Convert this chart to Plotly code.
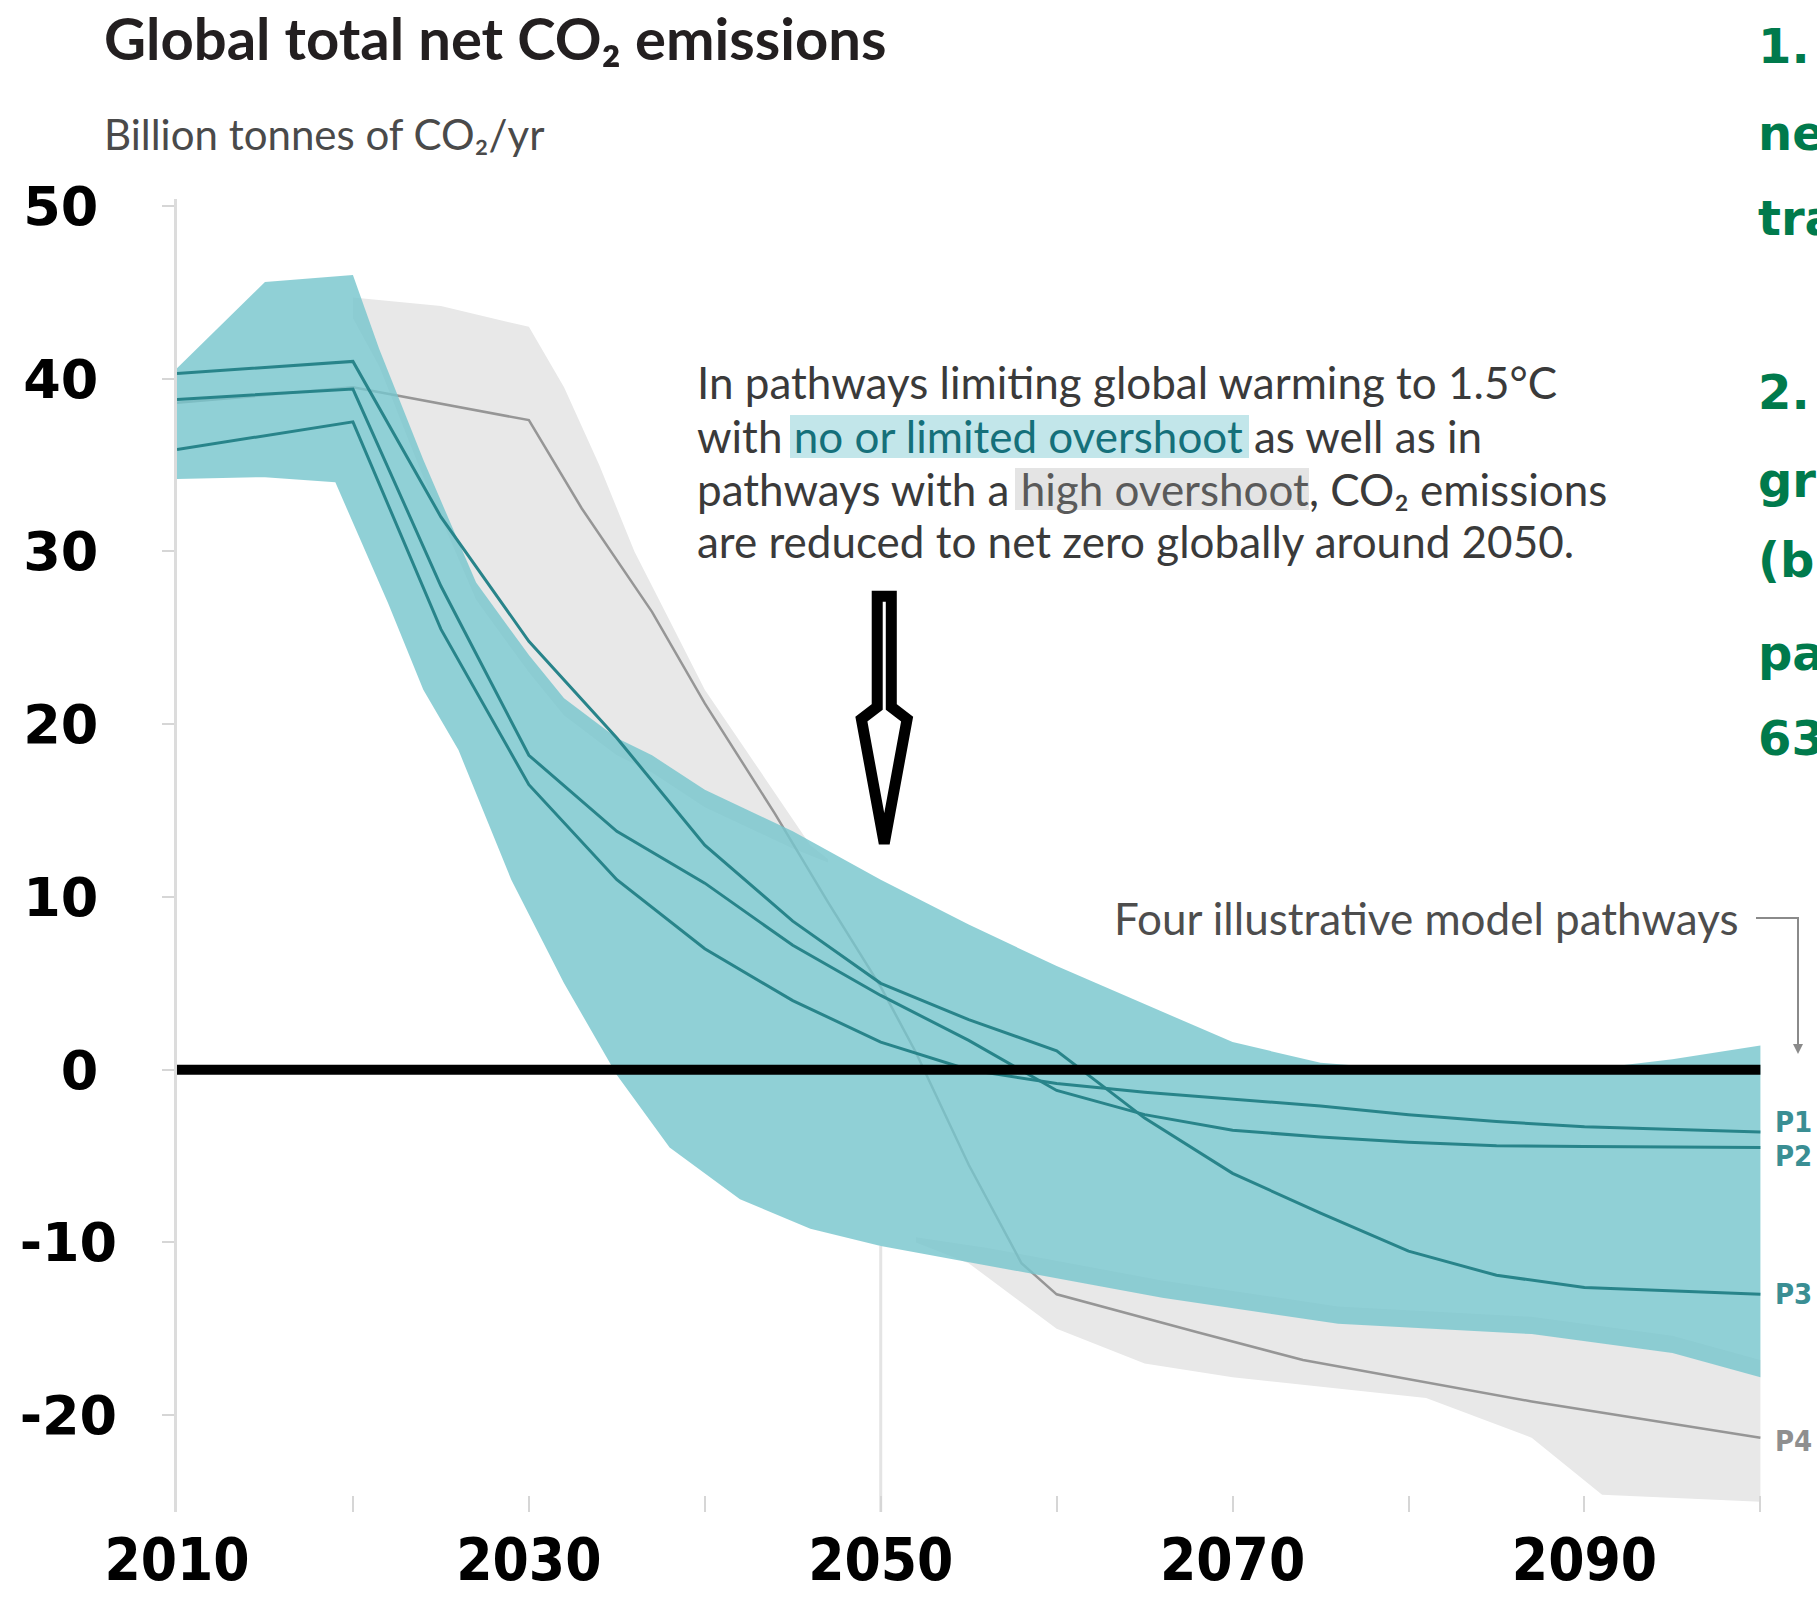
import plotly.graph_objects as go

# ---------------- data ----------------
line_years = [2010, 2020, 2025, 2030, 2035, 2040, 2045, 2050, 2055, 2060, 2065, 2070, 2075, 2080, 2085, 2090, 2100]
p1_values = [35.9, 37.5, 25.5, 16.5, 11.0, 7.0, 4.0, 1.6, 0.0, -0.8, -1.3, -1.7, -2.1, -2.6, -3.0, -3.3, -3.6]
p2_values = [38.8, 39.4, 28.0, 18.2, 13.8, 10.8, 7.2, 4.3, 1.7, -1.2, -2.6, -3.5, -3.9, -4.2, -4.4, -4.45, -4.5]
p3_values = [40.3, 41.0, 32.0, 24.8, 19.2, 13.0, 8.6, 5.0, 2.9, 1.1, -2.8, -6.0, -8.3, -10.5, -11.9, -12.6, -13.0]

p4_years = [2010, 2020, 2030, 2033, 2037, 2040, 2044, 2047, 2050, 2052, 2055, 2058, 2060, 2068, 2074, 2080, 2087, 2100]
p4_values = [38.6, 39.5, 37.6, 32.5, 26.5, 21.2, 14.8, 9.7, 4.8, 1.0, -5.5, -11.2, -13.0, -15.2, -16.8, -17.9, -19.2, -21.3]

teal_upper_years = [2010, 2015, 2020, 2021.5, 2024, 2027, 2030, 2032, 2035, 2037, 2040, 2045, 2050, 2055, 2060, 2065, 2070, 2075, 2080, 2085, 2090, 2095, 2100]
teal_upper = [40.6, 45.6, 46.0, 41.7, 35.3, 28.2, 24.0, 21.5, 19.2, 18.2, 16.2, 13.8, 11.0, 8.4, 6.0, 3.8, 1.6, 0.4, 0.0, -0.1, 0.0, 0.6, 1.4]
teal_lower_years = [2010, 2015, 2019, 2020.5, 2022, 2024, 2026, 2029, 2032, 2035, 2038, 2042, 2046, 2050, 2056, 2066, 2076, 2087, 2095, 2100]
teal_lower = [34.2, 34.3, 34.0, 30.5, 27.0, 22.0, 18.5, 11.0, 5.0, -0.3, -4.5, -7.5, -9.2, -10.2, -11.3, -13.2, -14.7, -15.3, -16.4, -17.8]

# high-overshoot (gray) range: visible part above the teal band, and part below it
gray_top_upper_years = [2020, 2025, 2030, 2032, 2034, 2036, 2038, 2040, 2042, 2044, 2046, 2047]
gray_top_upper = [44.7, 44.2, 43.0, 39.5, 35.0, 30.0, 26.0, 22.0, 19.0, 16.0, 13.0, 12.2]
gray_top_lower_years = [2020, 2021.5, 2024, 2027, 2030, 2032, 2035, 2037, 2040, 2045, 2047]
gray_top_lower = [43.5, 40.7, 34.3, 27.2, 23.0, 20.5, 18.2, 17.2, 15.2, 12.8, 12.0]
gray_bot_upper_years = [2052, 2056, 2066, 2076, 2087, 2095, 2100]
gray_bot_upper = [-9.7, -10.3, -12.2, -13.7, -14.3, -15.4, -16.8]
gray_bot_lower_years = [2052, 2055, 2060, 2065, 2070, 2081, 2087, 2091, 2100]
gray_bot_lower = [-10.0, -11.2, -15.0, -17.0, -17.8, -19.0, -21.3, -24.6, -25.0]

zero_years = [2010, 2100]
zero_values = [0, 0]

y_tick_values = [-20, -10, 0, 10, 20, 30, 40, 50]
y_tick_labels = ["-20", "-10", "0\u00a0", "10\u00a0", "20\u00a0", "30\u00a0", "40\u00a0", "50\u00a0"]
x_tick_values = [2010, 2020, 2030, 2040, 2050, 2060, 2070, 2080, 2090, 2100]
x_tick_labels = ["2010", "", "2030", "", "2050", "", "2070", "", "2090", ""]

pathway_names = ["P1", "P2", "P3", "P4"]
pathway_label_y = [-3.0, -5.0, -13.0, -21.5]

green_fragments = ["1.", "ne", "tra", "2.", "gre", "(b", "pa", "63"]
green_rows_px = [46, 133, 218, 392, 480, 560, 653, 738]

text_lines = [
    "In pathways limiting global warming to 1.5°C",
    "with <span style='color:#15707a'>no or limited overshoot</span> as well as in",
    "pathways with a <span style='color:#5a5a5a'>high overshoot</span>, CO₂ emissions",
    "are reduced to net zero globally around 2050.",
]
text_rows_px = [382, 436, 489, 541]

# ---------------- layout geometry ----------------
W, H = 1817, 1602
ML, MR, MT, MB = 177, 39, 199, 90
PW, PH = W - ML - MR, H - MT - MB


def px(x):
    return (x - ML) / PW


def py(y):
    return (H - MB - y) / PH


TEAL_LINE = "rgb(40,132,138)"
GRAY_FILL = "rgb(232,232,232)"
fig = go.Figure()

# gray band (high overshoot), two visible parts
fig.add_trace(go.Scatter(
    x=gray_top_upper_years + gray_top_lower_years[::-1],
    y=gray_top_upper + gray_top_lower[::-1],
    fill="toself", fillcolor=GRAY_FILL, line=dict(width=0), mode="lines", hoverinfo="skip"))
fig.add_trace(go.Scatter(
    x=gray_bot_upper_years + gray_bot_lower_years[::-1],
    y=gray_bot_upper + gray_bot_lower[::-1],
    fill="toself", fillcolor=GRAY_FILL, line=dict(width=0), mode="lines", hoverinfo="skip"))

# 2050 faint grid segment below the bands
fig.add_trace(go.Scatter(x=[2050, 2050], y=[-25.6, -10.2], mode="lines",
                         line=dict(color="rgb(228,228,228)", width=3), hoverinfo="skip"))

# P4 pathway
fig.add_trace(go.Scatter(x=p4_years, y=p4_values, mode="lines",
                         line=dict(color="rgb(150,150,150)", width=2.5), hoverinfo="skip"))

# teal band (no or limited overshoot)
fig.add_trace(go.Scatter(
    x=teal_upper_years + teal_lower_years[::-1],
    y=teal_upper + teal_lower[::-1],
    fill="toself", fillcolor="rgba(120,198,205,0.82)", line=dict(width=0),
    mode="lines", hoverinfo="skip"))

for vals in (p1_values, p2_values, p3_values):
    fig.add_trace(go.Scatter(x=line_years, y=vals, mode="lines",
                             line=dict(color=TEAL_LINE, width=3), hoverinfo="skip"))

# thick zero line
fig.add_trace(go.Scatter(x=zero_years, y=zero_values, mode="lines",
                         line=dict(color="black", width=10), hoverinfo="skip", cliponaxis=False))

annotations = []
annotations.append(dict(x=px(102), y=py(37), xref="paper", yref="paper", xanchor="left", yanchor="middle",
                        text="Global total net CO₂ emissions", showarrow=False,
                        font=dict(family="Lato", size=58, color="#231f20", weight="bold")))
annotations.append(dict(x=px(102), y=py(134), xref="paper", yref="paper", xanchor="left", yanchor="middle",
                        text="Billion tonnes of CO₂/yr", showarrow=False,
                        font=dict(family="Lato", size=42, color="#4a4a4a")))
for frag, row in zip(green_fragments, green_rows_px):
    annotations.append(dict(x=px(1756), y=py(row), xref="paper", yref="paper", xanchor="left",
                            yanchor="middle", text=frag, showarrow=False,
                            font=dict(family="DejaVu Sans", size=48, color="#007a4c", weight="bold")))

for txt, row in zip(text_lines, text_rows_px):
    annotations.append(dict(x=px(695), y=py(row), xref="paper", yref="paper", xanchor="left",
                            yanchor="middle", align="left", text=txt, showarrow=False,
                            font=dict(family="Lato", size=44, color="#3a3a3a")))
annotations.append(dict(x=px(1741), y=py(918), xref="paper", yref="paper", xanchor="right", yanchor="middle",
                        text="Four illustrative model pathways", showarrow=False,
                        font=dict(family="Lato", size=44, color="#4d4d4d")))
annotations.append(dict(x=px(1798), y=py(1054), xref="paper", yref="paper", text="", showarrow=True,
                        ax=0, ay=-30, arrowhead=2, arrowsize=1, arrowwidth=2, arrowcolor="#8a8a8a"))
label_colors = ["#3a8e93", "#3a8e93", "#3a8e93", "#8f8f8f"]
for name, yv, col in zip(pathway_names, pathway_label_y, label_colors):
    annotations.append(dict(x=px(1773), y=yv, xref="paper", yref="y", xanchor="left", yanchor="middle",
                            text=name, showarrow=False,
                            font=dict(family="DejaVu Sans Condensed", size=29, color=col, weight="bold")))

shapes = [
    dict(type="rect", xref="paper", yref="paper", x0=px(790), x1=px(1249), y0=py(458), y1=py(415),
         fillcolor="#c2e6ea", line=dict(width=0), layer="above"),
    dict(type="rect", xref="paper", yref="paper", x0=px(1015), x1=px(1309), y0=py(510), y1=py(468),
         fillcolor="#e4e4e4", line=dict(width=0), layer="above"),
    dict(type="path", xref="paper", yref="paper",
         path=f"M {px(1756)},{py(918)} L {px(1798)},{py(918)} L {px(1798)},{py(1040)}",
         line=dict(color="#8a8a8a", width=2)),
    dict(type="path", xref="x", yref="y",
         path="M 2049.8,27.4 L 2050.6,27.4 L 2050.6,21.0 L 2051.5,20.3 L 2050.2,13.1 "
              "L 2048.9,20.3 L 2049.8,21.0 Z",
         fillcolor="white", line=dict(color="black", width=11), layer="above"),
]

fig.update_layout(
    width=W, height=H, margin=dict(l=ML, r=MR, t=MT, b=MB, pad=0, autoexpand=False),
    paper_bgcolor="white", plot_bgcolor="white", showlegend=False,
    annotations=annotations, shapes=shapes,
    xaxis=dict(range=[2010, 2101], showgrid=False, zeroline=False, showline=False, automargin=False,
               tickmode="array", tickvals=x_tick_values, ticktext=x_tick_labels,
               ticks="inside", ticklen=16, tickwidth=2, tickcolor="#d6d6d6",
               ticklabelstandoff=9,
               tickfont=dict(family="DejaVu Sans Condensed", size=58, color="black", weight="bold")),
    yaxis=dict(range=[-25.6, 50.4], showgrid=False, zeroline=False, showline=True, automargin=False,
               linecolor="#dcdcdc", linewidth=3,
               tickmode="array", tickvals=y_tick_values, ticktext=y_tick_labels,
               ticks="outside", ticklen=12, tickwidth=2, tickcolor="#d6d6d6",
               ticklabelstandoff=34,
               tickfont=dict(family="DejaVu Sans", size=54, color="black", weight="bold")),
)

fig.write_html("out.html")
